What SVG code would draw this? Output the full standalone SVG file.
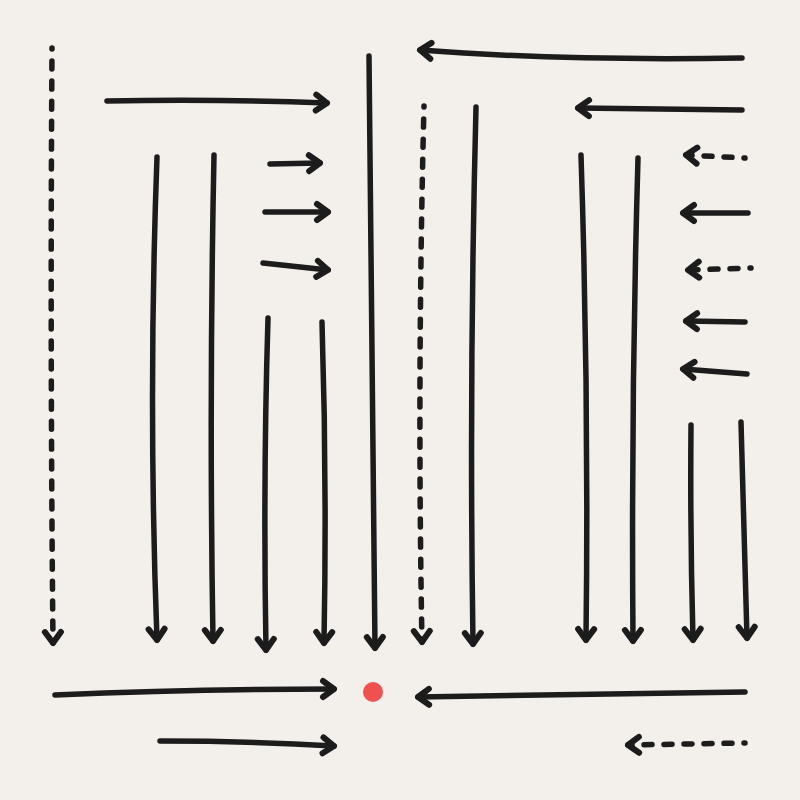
<svg xmlns="http://www.w3.org/2000/svg" width="800" height="800" viewBox="0 0 800 800">
<defs>
<marker id="ah" markerUnits="userSpaceOnUse" markerWidth="30" markerHeight="30" viewBox="-15 -15 30 30" refX="0" refY="0" orient="auto" overflow="visible">
<path d="M-11,-8 L0,0 L-11,8" fill="none" stroke="#1c1c1c" stroke-width="6" stroke-linecap="round" stroke-linejoin="round"/>
</marker>
</defs>
<style>
.a{fill:none;stroke:#1c1c1c;stroke-width:5.5;stroke-linecap:round;stroke-linejoin:round;marker-end:url(#ah)}
.d{stroke-dasharray:8 12;stroke-dashoffset:7}
</style>
<rect x="0" y="0" width="800" height="800" fill="#f3f0eb"/>
<g id="connectors">
<path class="a d" d="M52,48 Q50,350 53,643"/>
<path class="a" d="M157,157 Q148,400 157,640"/>
<path class="a" d="M214,155 Q209,400 213,641"/>
<path class="a" d="M268,318 Q263,480 266,650"/>
<path class="a" d="M322,322 Q327,480 324,643"/>
<path class="a" d="M369,56 Q371,350 375,648"/>
<path class="a d" d="M424,106 Q417,380 422,642"/>
<path class="a" d="M476,107 Q469,380 473,644"/>
<path class="a" d="M581,155 Q589,400 586,640"/>
<path class="a" d="M638,158 Q631,400 633,641"/>
<path class="a" d="M691,425 Q690,530 693,640"/>
<path class="a" d="M741,422 Q744,530 747,638"/>
<path class="a" d="M107,101 Q220,99 327,103"/>
<path class="a" d="M270,164 L320,163"/>
<path class="a" d="M265,212 L328,212"/>
<path class="a" d="M263,263 L328,270"/>
<path class="a" d="M742,58 Q560,61 420,50"/>
<path class="a" d="M742,110 Q660,109 578,108"/>
<path class="a d" d="M745,158 L686,155"/>
<path class="a" d="M748,213 L683,213"/>
<path class="a d" d="M751,268 L688,270"/>
<path class="a" d="M745,322 L686,321"/>
<path class="a" d="M747,374 L683,369"/>
<path class="a" d="M55,695 Q190,689 334,689"/>
<path class="a" d="M160,741 Q250,741 334,746"/>
<path class="a" d="M745,692 Q580,694 418,697"/>
<path class="a d" d="M745,743 L628,745"/>
</g>
<g id="target">
<circle cx="373" cy="692" r="10" fill="#ef5050"/>
</g>
</svg>
